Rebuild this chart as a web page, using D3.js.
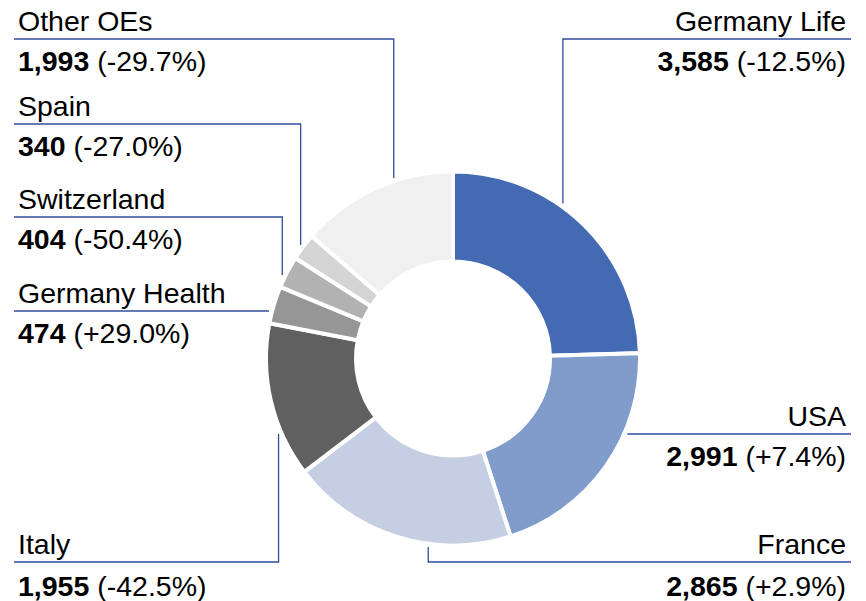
<!DOCTYPE html>
<html>
<head>
<meta charset="utf-8">
<script src="https://cdn.jsdelivr.net/npm/d3@7"></script>
<style>
  body { margin: 0; background: #fff; }
  text { font-family: "Liberation Sans", Arial, sans-serif; }
</style>
</head>
<body>
<div id="chart"></div>
<script>
// data, clockwise from 12 o'clock
const segments = ["Germany Life", "USA", "France", "Italy", "Germany Health", "Switzerland", "Spain", "Other OEs"];
const values = [3585, 2991, 2865, 1955, 474, 404, 340, 1993];
const changes = ["-12.5%", "+7.4%", "+2.9%", "-42.5%", "+29.0%", "-50.4%", "-27.0%", "-29.7%"];
const colors = ["#436ab2", "#7f9ccb", "#c5cee2", "#606060", "#969696", "#b2b2b2", "#d4d4d4", "#f0f0f0"];

// label placement: side, y of the underline, and how the leader reaches the ring
const labelLayout = {
    "Germany Life":   { side: "right", lineY: 39,  leader: "v", frac: 0.40 },
    "USA":            { side: "right", lineY: 434, leader: "h" },
    "France":         { side: "right", lineY: 562, leader: "v", frac: 0.36 },
    "Italy":          { side: "left",  lineY: 562, leader: "v", frac: 0.29 },
    "Germany Health": { side: "left",  lineY: 311, leader: "h" },
    "Switzerland":    { side: "left",  lineY: 217, leader: "v", frac: 0.35 },
    "Spain":          { side: "left",  lineY: 124, leader: "v", frac: 0.5 },
    "Other OEs":      { side: "left",  lineY: 39,  leader: "v", frac: 0.63 }
};

const width = 866, height = 601;
const cx = 453, cy = 358.5;
const outerR = 187, innerR = 97, leaderR = 190;
const leftX = 14, rightX = 851;
const fontSize = 28.5;
const lineColor = "#2f4e9e";

const svg = d3.select("#chart").append("svg")
    .attr("width", width)
    .attr("height", height);

const pie = d3.pie().sort(null).value(d => d.value);
const arc = d3.arc().innerRadius(innerR).outerRadius(outerR);

const rows = segments.map((s, i) => ({ name: s, value: values[i], change: changes[i], color: colors[i] }));
const arcs = pie(rows);

// leader lines (drawn first so the ring sits on top)
const fmt = d3.format(",");

arcs.forEach(a => {
    const lay = labelLayout[a.data.name];
    const edgeX = lay.side === "left" ? leftX : rightX;
    let pts;
    if (lay.leader === "h") {
        const dy = lay.lineY - cy;
        const dx = Math.sqrt(leaderR * leaderR - dy * dy);
        const px = lay.side === "left" ? cx - dx : cx + dx;
        pts = [[edgeX, lay.lineY], [px, lay.lineY]];
    } else {
        const ang = a.startAngle + lay.frac * (a.endAngle - a.startAngle);
        const px = cx + leaderR * Math.sin(ang);
        const py = cy - leaderR * Math.cos(ang);
        pts = [[edgeX, lay.lineY], [px, lay.lineY], [px, py]];
    }
    svg.append("path")
        .attr("d", d3.line()(pts))
        .attr("fill", "none")
        .attr("stroke", lineColor)
        .attr("stroke-width", 1.3);

    const anchor = lay.side === "left" ? "start" : "end";
    const tx = lay.side === "left" ? 18 : 846;

    svg.append("text")
        .attr("x", tx)
        .attr("y", lay.lineY - 8)
        .attr("text-anchor", anchor)
        .attr("font-size", fontSize)
        .attr("fill", "#000")
        .text(a.data.name);

    const vt = svg.append("text")
        .attr("x", tx)
        .attr("y", lay.lineY + (lay.lineY > 500 ? 34 : 31.5))
        .attr("text-anchor", anchor)
        .attr("font-size", fontSize)
        .attr("fill", "#000");
    vt.append("tspan").attr("font-weight", "bold").text(fmt(a.data.value));
    vt.append("tspan").text(" (" + a.data.change + ")");
});

// donut
svg.append("g")
    .attr("transform", `translate(${cx},${cy})`)
    .selectAll("path")
    .data(arcs)
    .join("path")
    .attr("d", arc)
    .attr("fill", d => d.data.color)
    .attr("stroke", "#fff")
    .attr("stroke-width", 4)
    .attr("stroke-linejoin", "miter");
</script>
</body>
</html>
